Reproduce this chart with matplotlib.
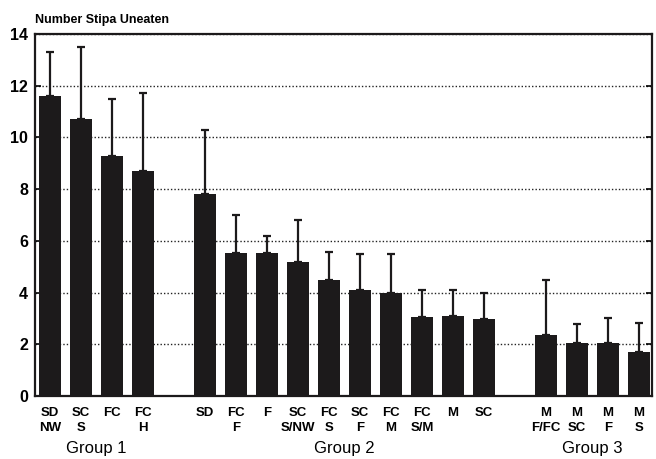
import numpy as np
import matplotlib
matplotlib.use("Agg")
import matplotlib.pyplot as plt

plt.rcParams['font.family'] = ['Liberation Sans', 'DejaVu Sans']

# treatments, three groups
labels1 = ["SD\nNW", "SC\nS", "FC", "FC\nH"]
labels2 = ["SD", "FC\nF", "F", "SC\nS/NW", "FC\nS", "SC\nF", "FC\nM", "FC\nS/M", "M", "SC"]
labels3 = ["M\nF/FC", "M\nSC", "M\nF", "M\nS"]
means1 = [11.6, 10.7, 9.3, 8.7]
means2 = [7.8, 5.55, 5.55, 5.2, 4.5, 4.1, 4.0, 3.07, 3.08, 3.0]
means3 = [2.37, 2.07, 2.07, 1.7]
err1 = [1.7, 2.8, 2.2, 3.0]
err2 = [2.5, 1.45, 0.65, 1.6, 1.07, 1.38, 1.48, 1.02, 1.01, 1.0]
err3 = [2.12, 0.73, 0.95, 1.13]
groups = ["Group 1", "Group 2", "Group 3"]

labels = labels1 + labels2 + labels3
means = means1 + means2 + means3
errs = err1 + err2 + err3
pos = list(range(0, 4)) + list(range(5, 15)) + list(range(16, 20))

fig = plt.figure(figsize=(6.56, 4.59), dpi=100)
ax = fig.add_axes([0.0534, 0.137, 0.9406, 0.789])

ax.bar(pos, means, width=0.71, color='#1c1a1b', zorder=3)
ax.errorbar(pos, means, yerr=[np.zeros(len(errs)), errs], fmt='none',
            ecolor='#1c1a1b', elinewidth=1.6, capsize=3, capthick=1.6, zorder=2)

ax.set_xlim(-0.49, 19.42)
ax.set_ylim(0, 14)
ax.set_yticks(range(0, 15, 2))
ax.set_yticklabels([str(v) for v in range(0, 15, 2)], fontsize=11.5, fontweight='bold')
ax.yaxis.grid(True, linestyle=(0, (1, 1.5)), color='#222222', linewidth=1.0, zorder=0)
ax.tick_params(axis='y', direction='in', length=4, width=1.2, right=True, pad=5)
ax.set_xticks(pos)
ax.set_xticklabels(labels, fontsize=9.5, fontweight='bold', linespacing=1.3)
ax.tick_params(axis='x', length=0, pad=8)
for s in ax.spines.values():
    s.set_linewidth(1.6)
    s.set_color('#1c1a1b')

ax.text(0.0, 1.022, "Number Stipa Uneaten", transform=ax.transAxes,
        fontsize=9, fontweight='bold', ha='left', va='bottom')

centers = [np.mean(pos[0:4]), np.mean(pos[4:14]), np.mean(pos[14:18])]
for c, g in zip(centers, groups):
    ax.text(c, -0.145, g, transform=ax.get_xaxis_transform(),
            fontsize=12, ha='center', va='center')

fig.savefig("out.png", dpi=100)
